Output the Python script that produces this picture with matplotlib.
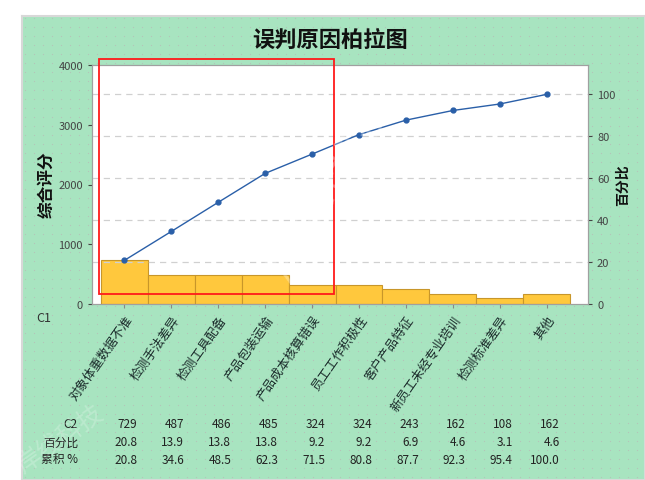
import numpy as np
import matplotlib
matplotlib.use("Agg")
import matplotlib.pyplot as plt
from matplotlib.patches import Rectangle

plt.rcParams['font.family'] = ['Noto Sans CJK SC', 'DejaVu Sans']

# data
causes = ['对象体重数据不准', '检测手法差异', '检测工具配备', '产品包装运输', '产品成本核算错误',
          '员工工作积极性', '客户产品特征', '新员工未经专业培训', '检测标准差异', '其他']
scores = [729, 487, 486, 485, 324, 324, 243, 162, 108, 162]
pct = [20.8, 13.9, 13.8, 13.8, 9.2, 9.2, 6.9, 4.6, 3.1, 4.6]
cum_pct = [20.8, 34.6, 48.5, 62.3, 71.5, 80.8, 87.7, 92.3, 95.4, 100.0]

W, H = 645, 481
fig = plt.figure(figsize=(W / 100, H / 100), dpi=100)
fig.patch.set_facecolor('white')

# green panel with dotted pattern
bg = fig.add_axes([22 / W, 0, 1 - 22 / W, 1 - 17 / H])
bg.set_facecolor('#a8e4c0')
gx, gy = np.meshgrid(np.arange(3, 640, 9), np.arange(3, 470, 9))
bg.scatter(gx.ravel(), gy.ravel(), s=0.8, color='#b4c4b9', linewidths=0)
bg.set_xlim(0, 623)
bg.set_ylim(0, 464)
bg.set_xticks([])
bg.set_yticks([])
for s in bg.spines.values():
    s.set_color('#d8d8d8')
    s.set_linewidth(1.5)

ax = fig.add_axes([92 / W, 1 - 305 / H, (588 - 92) / W, (305 - 66) / H])
ax2 = ax.twinx()
ax.set_zorder(2)
ax2.set_zorder(3)
ax.patch.set_facecolor('white')

x = np.arange(len(causes))
ax.bar(x, scores, width=1.0, color='#ffc83d', edgecolor='#c8962a', linewidth=0.8, zorder=2)
ax.set_xlim(-0.69, 9.88)
ax.set_ylim(0, 4000)
ax.set_yticks([0, 1000, 2000, 3000, 4000])
ax.set_xticks(x)
ax.set_xticklabels(causes, rotation=55, ha='right', va='top', rotation_mode='anchor',
                   fontsize=9, color='#1a2a2a')
ax.tick_params(axis='y', labelsize=8, colors='#444444', length=3)
ax.tick_params(axis='x', length=3, colors='#888888', labelcolor='#1a2a2a')

ax2.plot(x, cum_pct, color='#2a5fa8', lw=1.0, marker='o', ms=3.5, zorder=4)
ax2.set_ylim(0, 114)
ax2.set_yticks([0, 20, 40, 60, 80, 100])
ax2.tick_params(axis='y', labelsize=8, colors='#444444', length=3)
for v in [20, 40, 60, 80, 100]:
    ax2.axhline(v, color='#d0d0d0', lw=0.9, ls=(0, (5, 4)), zorder=1)

for a in (ax, ax2):
    for s in a.spines.values():
        s.set_color('#a0a0a0')

fig.text(330 / W, 1 - 40 / H, '误判原因柏拉图', ha='center', va='center',
         fontsize=16, fontweight='bold', color='#111111')
fig.text(46 / W, 1 - 185 / H, '综合评分', rotation=90, ha='center', va='center',
         fontsize=12, fontweight='bold', color='#111111')
fig.text(623 / W, 1 - 185 / H, '百分比', rotation=90, ha='center', va='center',
         fontsize=10, fontweight='bold', color='#111111')
fig.text(36 / W, 1 - 319 / H, 'C1', ha='left', va='center', fontsize=9, color='#333333')

# table rows under the chart
rows = [('C2', [str(v) for v in scores]),
        ('百分比', ['%.1f' % v for v in pct]),
        ('累积 %', ['%.1f' % v for v in cum_pct])]
row_y = [425, 443, 460]
for (name, vals), yy in zip(rows, row_y):
    fig.text(78 / W, 1 - yy / H, name, ha='right', va='center', fontsize=8.5, color='#222222')
    for i, v in enumerate(vals):
        xd = ax.transData.transform((i, 0))[0]
        fig.text((xd + 13) / W, 1 - yy / H, v, ha='right', va='center', fontsize=8.5,
                 color='#222222')

# red highlight box
fig.patches.append(Rectangle((99 / W, 1 - 295 / H), (334 - 99) / W, (295 - 60) / H,
                             transform=fig.transFigure, fill=False, edgecolor='#ff1a1a',
                             lw=1.3, zorder=10))

# watermark
fig.text(330 / W, 1 - 190 / H, '海岸线科技', rotation=60, ha='center', va='center',
         fontsize=30, color='white', alpha=0.3, zorder=20)
fig.text(60 / W, 1 - 440 / H, '岸线科技', rotation=35, ha='center', va='center',
         fontsize=18, color='white', alpha=0.22, zorder=20)

fig.savefig('out.png', dpi=100, facecolor=fig.get_facecolor())
